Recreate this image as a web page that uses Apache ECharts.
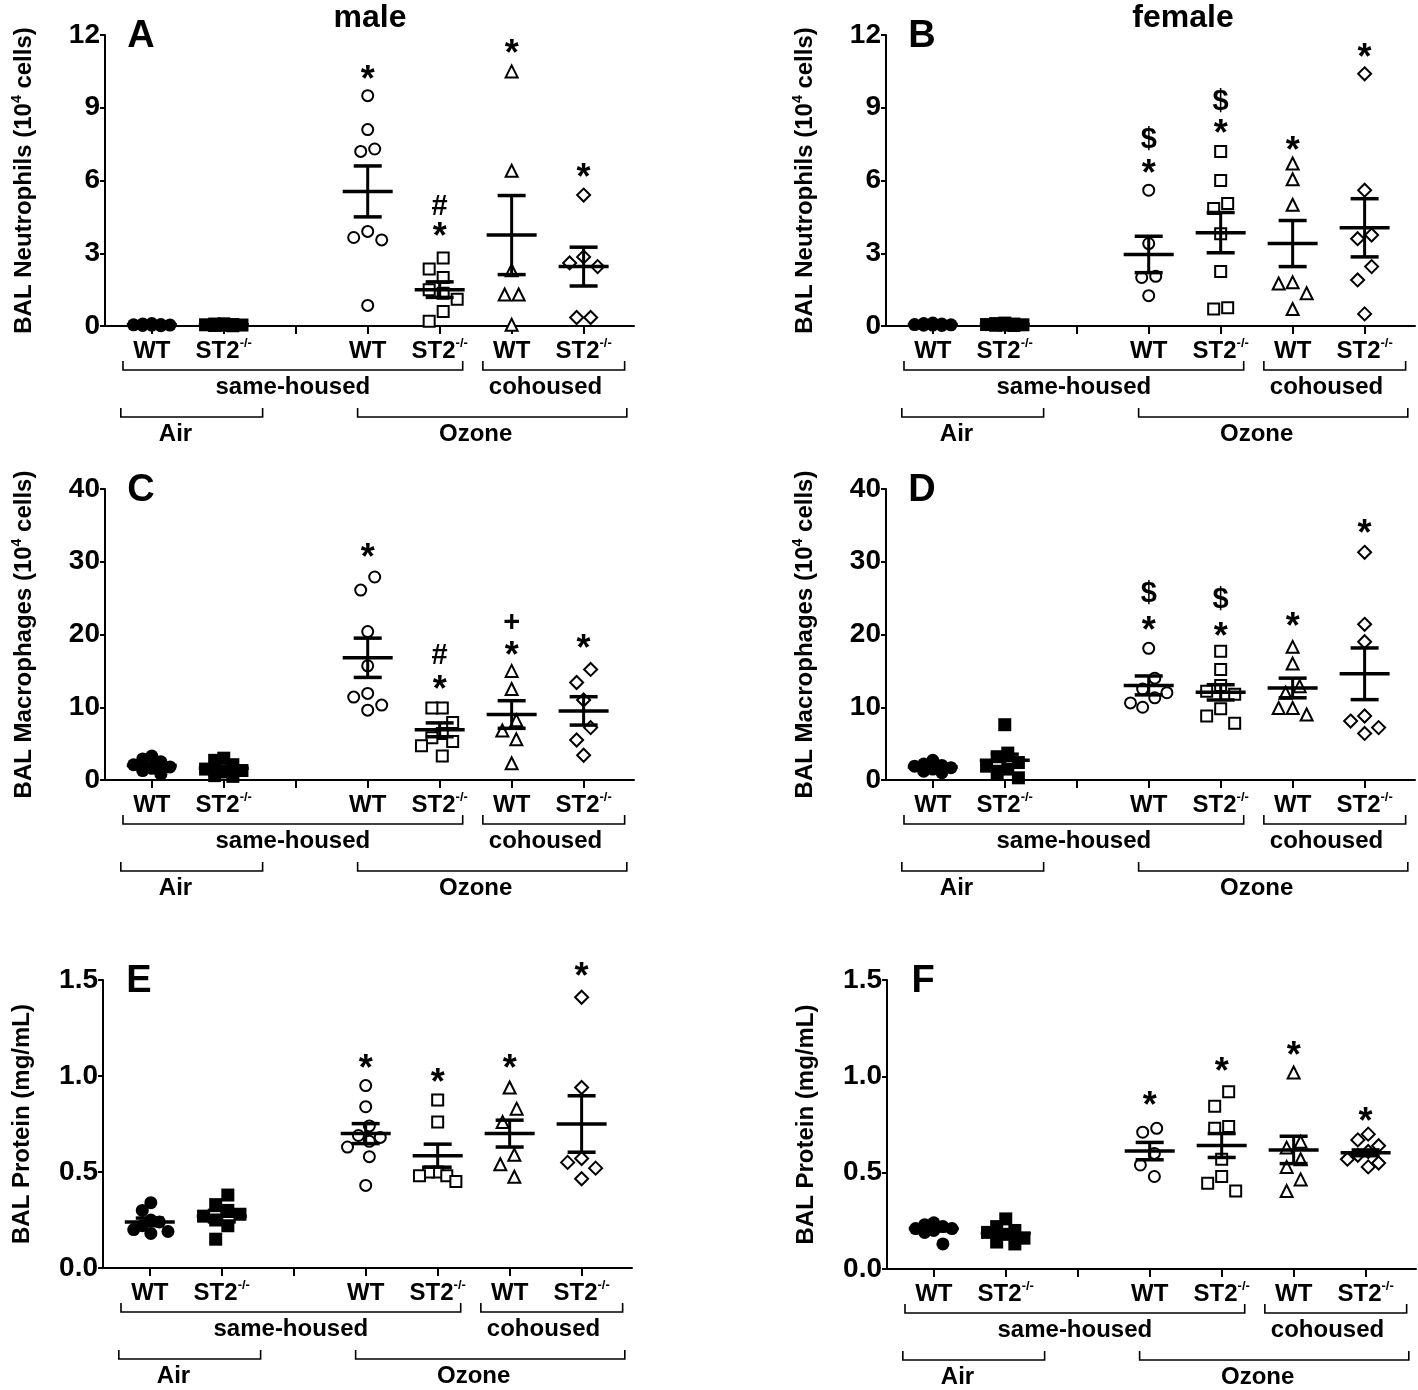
<!DOCTYPE html>
<html><head><meta charset="utf-8">
<script src="https://cdn.jsdelivr.net/npm/echarts@6/dist/echarts.min.js"></script>
<style>html,body{margin:0;padding:0;background:#fff}#c{width:1418px;height:1390px}</style>
</head><body><div id="c"></div><script>
// ---------------- DATA ----------------
const categories = ['WT', 'ST2-/-', '', 'WT', 'ST2-/-', 'WT', 'ST2-/-'];
const groupSlots = [1, 2, 4, 5, 6, 7];
const groupNames = ['WT air', 'ST2-/- air', 'WT ozone same-housed', 'ST2-/- ozone same-housed', 'WT ozone cohoused', 'ST2-/- ozone cohoused'];
const panelTitles = ['male', 'female'];
const panelLetters = ['A', 'B', 'C', 'D', 'E', 'F'];
const yAxisNames = ['BAL Neutrophils', 'BAL Macrophages', 'BAL Protein'];
const bracketLabels = ['same-housed', 'cohoused', 'Air', 'Ozone'];

// Panel A – male neutrophils (10^4 cells)
const aPoints = [
  [0.10, 0.08, 0.06, 0.05, 0.04, 0.03, 0.02, 0.01],
  [0.09, 0.08, 0.06, 0.05, 0.04, 0.03, 0.02, 0.01],
  [9.5, 8.1, 7.3, 7.2, 3.9, 3.65, 3.55, 0.85],
  [2.8, 2.35, 2.0, 1.5, 1.35, 1.1, 0.6, 0.2],
  [10.5, 6.4, 2.3, 1.3, 1.3, 0.05],
  [5.4, 2.85, 2.6, 2.45, 0.35, 0.35]
];
const aMeans = [0.05, 0.05, 5.55, 1.5, 3.75, 2.45];
const aSems = [0.01, 0.01, 1.05, 0.32, 1.63, 0.8];
const aMarks = [[4, 10.45, '*'], [5, 3.95, '*'], [5, 4.9, '#'], [6, 11.5, '*'], [7, 6.4, '*']];

// Panel B – female neutrophils
const bPoints = [
  [0.12, 0.10, 0.08, 0.06, 0.05, 0.04, 0.03, 0.02],
  [0.12, 0.10, 0.08, 0.06, 0.05, 0.04, 0.03, 0.02],
  [5.6, 3.4, 2.05, 2.0, 1.25],
  [7.2, 6.0, 5.05, 4.85, 3.8, 2.25, 0.75, 0.7],
  [6.7, 6.05, 5.0, 1.8, 1.75, 1.35, 0.7],
  [10.4, 5.6, 3.75, 3.6, 2.45, 1.9, 0.5]
];
const bMeans = [0.06, 0.06, 2.95, 3.85, 3.4, 4.05];
const bSems = [0.01, 0.01, 0.75, 0.83, 0.95, 1.2];
const bMarks = [[4, 6.55, '*'], [4, 7.65, '$'], [5, 8.2, '*'], [5, 9.25, '$'], [6, 7.5, '*'], [7, 11.35, '*']];

// Panel C – male macrophages (10^4 cells)
const cPoints = [
  [3.3, 2.9, 2.5, 2.1, 1.8, 1.6, 1.3, 0.8],
  [3.0, 2.7, 2.1, 1.5, 1.3, 1.1, 0.6, 0.5],
  [27.9, 26.1, 20.4, 15.7, 11.9, 11.4, 10.3, 9.6],
  [9.9, 9.9, 7.9, 6.4, 5.8, 5.3, 4.7, 3.3],
  [15.0, 12.5, 8.2, 6.8, 5.6, 2.3],
  [15.2, 13.4, 11.0, 7.2, 5.5, 3.4]
];
const cMeans = [2.0, 1.6, 16.8, 6.9, 9.0, 9.5];
const cSems = [0.3, 0.32, 2.7, 0.95, 1.9, 1.95];
const cMarks = [[4, 31.4, '*'], [5, 13.3, '*'], [5, 17.0, '#'], [6, 18.0, '*'], [6, 21.6, '+'], [7, 19.0, '*']];

// Panel D – female macrophages
const dPoints = [
  [2.7, 2.2, 2.0, 1.9, 1.7, 1.5, 1.2, 1.0],
  [7.6, 3.7, 3.2, 2.4, 1.9, 1.5, 0.8, 0.3],
  [18.1, 14.0, 12.5, 12.0, 11.3, 10.6, 10.0],
  [17.7, 15.2, 13.0, 12.2, 11.8, 9.8, 8.8, 7.8],
  [18.3, 16.0, 12.9, 12.0, 9.9, 9.9, 9.0],
  [31.3, 21.4, 19.0, 8.8, 8.1, 7.2, 6.4]
];
const dMeans = [1.8, 2.7, 13.0, 12.05, 12.65, 14.6];
const dSems = [0.2, 0.85, 1.3, 1.05, 1.35, 3.55];
const dMarks = [[4, 21.4, '*'], [4, 25.6, '$'], [5, 20.6, '*'], [5, 24.8, '$'], [6, 22.0, '*'], [7, 34.8, '*']];

// Panel E – male protein (mg/mL)
const ePoints = [
  [0.34, 0.30, 0.25, 0.24, 0.22, 0.20, 0.19, 0.18],
  [0.38, 0.33, 0.30, 0.28, 0.27, 0.25, 0.22, 0.15],
  [0.95, 0.84, 0.74, 0.69, 0.68, 0.66, 0.63, 0.58, 0.43],
  [0.875, 0.76, 0.5, 0.5, 0.48, 0.48, 0.45],
  [0.94, 0.83, 0.76, 0.59, 0.54, 0.475],
  [1.41, 0.94, 0.57, 0.55, 0.52, 0.465]
];
const eMeans = [0.24, 0.27, 0.70, 0.585, 0.70, 0.75];
const eSems = [0.02, 0.03, 0.052, 0.06, 0.07, 0.147];
const eMarks = [[4, 1.07, '*'], [5, 1.0, '*'], [6, 1.07, '*'], [7, 1.55, '*']];

// Panel F – female protein
const fPoints = [
  [0.24, 0.23, 0.22, 0.21, 0.21, 0.20, 0.19, 0.13],
  [0.26, 0.22, 0.20, 0.19, 0.18, 0.16, 0.14, 0.13],
  [0.73, 0.71, 0.60, 0.54, 0.48],
  [0.92, 0.845, 0.74, 0.73, 0.57, 0.48, 0.445, 0.405],
  [1.02, 0.66, 0.63, 0.57, 0.53, 0.465, 0.405],
  [0.70, 0.67, 0.64, 0.61, 0.59, 0.57, 0.55, 0.53]
];
const fMeans = [0.21, 0.185, 0.612, 0.641, 0.618, 0.603];
const fSems = [0.012, 0.015, 0.045, 0.062, 0.071, 0.015];
const fMarks = [[4, 0.88, '*'], [5, 1.06, '*'], [6, 1.14, '*'], [7, 0.80, '*']];

// y-axis scales
const yMaxes = [12, 12, 40, 40, 1.5, 1.5];
const yIntervals = [3, 3, 10, 10, 0.5, 0.5];

// ---------------- LAYOUT / STYLE ----------------
const FONT = '"Liberation Sans", Arial, Helvetica, sans-serif';
const XMIN = 0.35, XMAX = 7.7, GW = 529;
const layout = [[105, 35, 291], [886, 35, 291], [105, 489, 291], [886, 489, 291], [103, 980, 288], [887, 980, 289]];
const bracketSpans = [[0.6, 5.32, 2.96], [5.6, 7.57, 6.47], [0.57, 2.54, 1.33], [3.86, 7.6, 5.5]];
const bracketRows = [0, 0, 1, 1];
const symbols = [
  { symbol: 'circle', size: 13, filled: true },
  { symbol: 'rect', size: 13, filled: true },
  { symbol: 'circle', size: 11, filled: false },
  { symbol: 'rect', size: 11, filled: false },
  { symbol: 'triangle', size: 12, filled: false },
  { symbol: 'diamond', size: 13, filled: false }
];

const panels = [
  { pts: aPoints, means: aMeans, sems: aSems, marks: aMarks },
  { pts: bPoints, means: bMeans, sems: bSems, marks: bMarks },
  { pts: cPoints, means: cMeans, sems: cSems, marks: cMarks },
  { pts: dPoints, means: dMeans, sems: dSems, marks: dMarks },
  { pts: ePoints, means: eMeans, sems: eSems, marks: eMarks },
  { pts: fPoints, means: fMeans, sems: fSems, marks: fMarks }
];

// column-scatter placement (symbols that would overlap are moved sideways)
function spread(values, slot, pxPerY, pxPerX) {
  const D = 15, S = 14, KMAX = 1.3;
  const order = values.map((v, i) => i).sort((a, b) => values[b] - values[a]);
  const placed = [];
  const ks = [0, -1, 1, -2, 2];
  for (const i of order) {
    const y = values[i] * pxPerY;
    let best = 0, bestD = -1;
    for (const k of ks) {
      let mind = Infinity;
      for (const p of placed) if (p.k === k) mind = Math.min(mind, Math.abs(y - p.y));
      if (mind >= D) { best = k; break; }
      if (mind > bestD) { bestD = mind; best = k; }
    }
    placed.push({ i, k: best, y });
  }
  placed.sort((a, b) => b.y - a.y);
  let start = 0;
  for (let j = 1; j <= placed.length; j++) {
    if (j === placed.length || placed[j - 1].y - placed[j].y >= D) {
      const cl = placed.slice(start, j);
      const m = cl.reduce((s, p) => s + p.k, 0) / cl.length;
      cl.forEach(p => p.k -= m);
      const mx = Math.max(...cl.map(p => Math.abs(p.k)));
      if (mx > KMAX) cl.forEach(p => p.k *= KMAX / mx);
      start = j;
    }
  }
  return placed.map(p => [slot + p.k * S / pxPerX, values[p.i]]);
}

const catRich = {
  t: { fontSize: 24, fontWeight: 'bold', fontFamily: FONT, color: '#000', lineHeight: 28 },
  s: { fontSize: 13, fontWeight: 'bold', fontFamily: FONT, color: '#000', lineHeight: 13, verticalAlign: 'top' }
};
function catLabel(v) {
  const c = categories[Math.round(v) - 1] || '';
  if (c.indexOf('-/-') > 0) return '{t|' + c.replace('-/-', '') + '}{s|-/-}';
  return '{t|' + c + '}';
}
const nameRich = {
  n: { fontSize: 24, fontWeight: 'bold', fontFamily: FONT, color: '#000', lineHeight: 28 },
  s: { fontSize: 14, fontWeight: 'bold', fontFamily: FONT, color: '#000', lineHeight: 14, verticalAlign: 'top' }
};
function yName(pi) {
  const row = Math.floor(pi / 2);
  if (row === 2) return '{n|' + yAxisNames[2] + ' (mg/mL)}';
  return '{n|' + yAxisNames[row] + ' (10}{s|4}{n| cells)}';
}

const grids = [], xAxes = [], yAxes = [], series = [], graphics = [];
panels.forEach((p, pi) => {
  const [left, top, height] = layout[pi];
  const yMax = yMaxes[pi];
  const pxPerY = height / yMax, pxPerX = GW / (XMAX - XMIN);
  const dec = yIntervals[pi] < 1 ? 1 : 0;
  grids.push({ left, top, width: GW, height });
  xAxes.push({
    type: 'value', gridIndex: pi, min: XMIN, max: XMAX, splitLine: { show: false },
    axisLine: { show: true, onZero: false, lineStyle: { color: '#000', width: 2 } },
    axisTick: { show: true, customValues: [1, 2, 3, 4, 5, 6, 7], length: 8, lineStyle: { color: '#000', width: 2 } },
    axisLabel: { show: true, customValues: groupSlots, formatter: catLabel, margin: 11, rich: catRich }
  });
  yAxes.push({
    type: 'value', gridIndex: pi, min: 0, max: yMax, interval: yIntervals[pi], splitLine: { show: false },
    axisLine: { show: true, lineStyle: { color: '#000', width: 2 } },
    axisTick: { show: true, length: 5, lineStyle: { color: '#000', width: 2 } },
    axisLabel: { fontSize: 28, fontWeight: 'bold', fontFamily: FONT, color: '#000', margin: 5,
      formatter: v => v.toFixed(dec) },
    name: yName(pi), nameLocation: 'middle', nameRotate: 90, nameGap: 67,
    nameTextStyle: { rich: nameRich }
  });
  // scatter points
  p.pts.forEach((vals, gi) => {
    const sy = symbols[gi];
    series.push({
      type: 'scatter', name: groupNames[gi], xAxisIndex: pi, yAxisIndex: pi, z: 2,
      symbol: sy.symbol, symbolSize: sy.size,
      itemStyle: sy.filled ? { color: '#000', borderWidth: 0, opacity: 1 } :
        { color: '#fff', borderColor: '#000', borderWidth: 2, opacity: 1 },
      data: spread(vals, groupSlots[gi], pxPerY, pxPerX),
      silent: true
    });
  });
  // mean ± SEM
  series.push({
    type: 'custom', xAxisIndex: pi, yAxisIndex: pi, z: 5, clip: false, silent: true,
    encode: { x: 0, y: 1 },
    data: p.means.map((m, gi) => [groupSlots[gi], m, p.sems[gi]]),
    renderItem: (params, api) => {
      const x = api.value(0), m = api.value(1), s = api.value(2);
      const c = api.coord([x, m]), t = api.coord([x, m + s]), b = api.coord([x, Math.max(0, m - s)]);
      const st = { stroke: '#000', lineWidth: 3.5 };
      return { type: 'group', children: [
        { type: 'line', shape: { x1: c[0] - 25, y1: c[1], x2: c[0] + 25, y2: c[1] }, style: st },
        { type: 'line', shape: { x1: c[0], y1: t[1], x2: c[0], y2: b[1] }, style: { stroke: '#000', lineWidth: 3 } },
        { type: 'line', shape: { x1: c[0] - 14, y1: t[1], x2: c[0] + 14, y2: t[1] }, style: st },
        { type: 'line', shape: { x1: c[0] - 14, y1: b[1], x2: c[0] + 14, y2: b[1] }, style: st }
      ] };
    }
  });
  // significance marks
  series.push({
    type: 'custom', xAxisIndex: pi, yAxisIndex: pi, z: 6, clip: false, silent: true,
    encode: { x: 0, y: 1 },
    data: p.marks.map(mk => [mk[0], mk[1]]),
    renderItem: (params, api) => {
      const txt = p.marks[params.dataIndex][2];
      const c = api.coord([api.value(0), api.value(1)]);
      const star = txt === '*';
      const fs = star ? 36 : 29;
      return { type: 'text', x: c[0], y: c[1] + (star ? 8 : 0),
        style: { text: txt, font: 'bold ' + fs + 'px ' + FONT, fill: '#000',
          align: 'center', verticalAlign: 'middle', textAlign: 'center', textVerticalAlign: 'middle' } };
    }
  });
  // group brackets
  series.push({
    type: 'custom', xAxisIndex: pi, yAxisIndex: pi, z: 6, clip: false, silent: true,
    encode: { x: 0, y: 3 },
    data: bracketSpans.map(b => [b[0], b[1], b[2], 0]),
    renderItem: (params, api) => {
      const row = bracketRows[params.dataIndex];
      const a = api.coord([api.value(0), 0]), e = api.coord([api.value(1), 0]), tx = api.coord([api.value(2), 0]);
      const y = a[1] + (row === 0 ? 44 : 91);
      return { type: 'group', children: [
        { type: 'polyline', shape: { points: [[a[0], y - 9], [a[0], y], [e[0], y], [e[0], y - 9]] },
          style: { stroke: '#000', lineWidth: 1.6, fill: null } },
        { type: 'text', x: tx[0], y: y + 17,
          style: { text: bracketLabels[params.dataIndex], font: 'bold 24px ' + FONT, fill: '#000',
            align: 'center', verticalAlign: 'middle', textAlign: 'center', textVerticalAlign: 'middle' } }
      ] };
    }
  });
  // panel letter
  graphics.push({ type: 'text', x: left + 36, y: top + 2,
    style: { text: panelLetters[pi], font: 'bold 38px ' + FONT, fill: '#000',
      align: 'center', verticalAlign: 'middle', textAlign: 'center', textVerticalAlign: 'middle' } });
});
graphics.push({ type: 'text', x: 370, y: 18, style: { text: panelTitles[0], font: 'bold 32px ' + FONT, fill: '#000',
  align: 'center', verticalAlign: 'middle', textAlign: 'center', textVerticalAlign: 'middle' } });
graphics.push({ type: 'text', x: 1183, y: 18, style: { text: panelTitles[1], font: 'bold 32px ' + FONT, fill: '#000',
  align: 'center', verticalAlign: 'middle', textAlign: 'center', textVerticalAlign: 'middle' } });

const chart = echarts.init(document.getElementById('c'), null, { renderer: 'canvas' });
chart.setOption({
  animation: false, backgroundColor: '#fff',
  textStyle: { fontFamily: FONT },
  grid: grids, xAxis: xAxes, yAxis: yAxes, series, graphic: graphics
});
</script></body></html>
